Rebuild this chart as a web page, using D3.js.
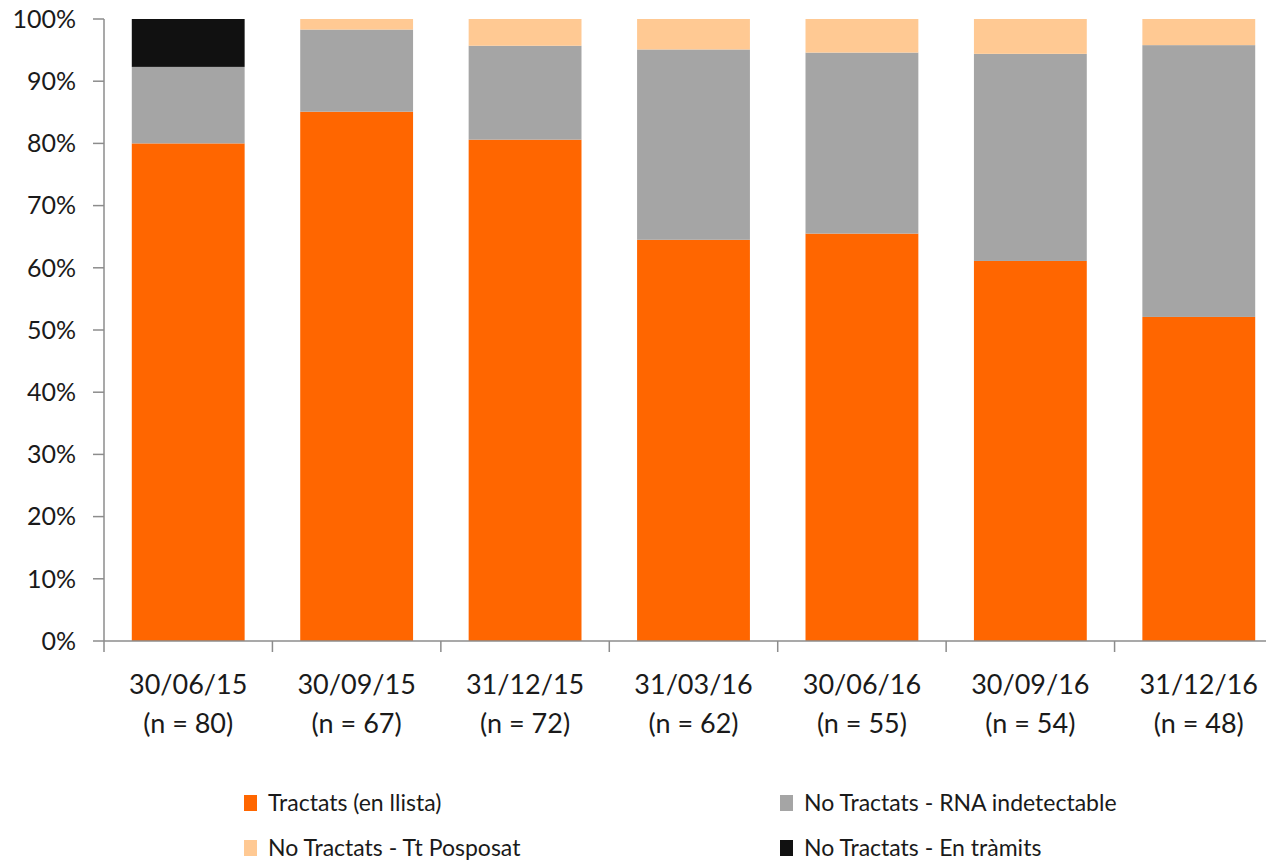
<!DOCTYPE html>
<html>
<head>
<meta charset="utf-8">
<script src="https://cdn.jsdelivr.net/npm/d3@7"></script>
<style>
  body { margin: 0; background: #fff; }
  text { font-family: Lato, "Open Sans", sans-serif; fill: #1a1a1a; }
</style>
</head>
<body>
<svg id="chart" width="1266" height="862"></svg>
<script>
// Data (shares in %)
const dates = ['30/06/15', '30/09/15', '31/12/15', '31/03/16', '30/06/16', '30/09/16', '31/12/16']
const counts = [80, 67, 72, 62, 55, 54, 48]
const tractats = [80.0, 85.1, 80.6, 64.5, 65.5, 61.1, 52.1]
const rnaIndetectable = [12.3, 13.2, 15.1, 30.6, 29.1, 33.3, 43.7]
const ttPosposat = [0, 1.7, 4.3, 4.9, 5.4, 5.6, 4.2]
const enTramits = [7.7, 0, 0, 0, 0, 0, 0]
const yTicks = [0, 10, 20, 30, 40, 50, 60, 70, 80, 90, 100]

const seriesKeys = ['tractats', 'rna', 'posposat', 'tramits']
const seriesNames = {
  tractats: 'Tractats (en llista)',
  rna: 'No Tractats - RNA indetectable',
  posposat: 'No Tractats - Tt Posposat',
  tramits: 'No Tractats - En tràmits',
}
const colors = {
  tractats: '#ff6600',
  rna: '#a5a5a5',
  posposat: '#ffc993',
  tramits: '#111111',
}

const table = dates.map((d, i) => ({
  date: d,
  n: counts[i],
  tractats: tractats[i],
  rna: rnaIndetectable[i],
  posposat: ttPosposat[i],
  tramits: enTramits[i],
}))

const svg = d3.select('#chart')
const axisColor = '#8c8c8c'

const x0 = 104, x1 = 1283, yTop = 19, yBottom = 641

const xScale = d3
  .scaleBand()
  .domain(dates)
  .range([x0, x1])
  .paddingInner(0.33)
  .paddingOuter(0.165)

const yScale = d3.scaleLinear().domain([0, 100]).range([yBottom, yTop])

const stacked = d3.stack().keys(seriesKeys)(table)

// Bars
svg
  .append('g')
  .selectAll('g')
  .data(stacked)
  .join('g')
  .attr('fill', d => colors[d.key])
  .selectAll('rect')
  .data(d => d)
  .join('rect')
  .attr('x', d => xScale(d.data.date))
  .attr('width', xScale.bandwidth())
  .attr('y', d => yScale(d[1]))
  .attr('height', d => yScale(d[0]) - yScale(d[1]))

// Left axis
const yAxis = svg.append('g').attr('transform', `translate(${x0},0)`)
yAxis
  .append('line')
  .attr('x1', 0).attr('x2', 0)
  .attr('y1', yScale(0)).attr('y2', yScale(100))
  .attr('stroke', axisColor).attr('stroke-width', 1.5)
const yTick = yAxis
  .selectAll('.ytick')
  .data(yTicks)
  .join('g')
  .attr('class', 'ytick')
  .attr('transform', d => `translate(0,${yScale(d)})`)
yTick.append('line').attr('x1', -11).attr('x2', 0).attr('stroke', axisColor).attr('stroke-width', 1.5)
yTick
  .append('text')
  .attr('x', -28)
  .attr('dy', '0.35em')
  .attr('text-anchor', 'end')
  .style('font-size', '25px')
  .text(d => d + '%')

// Bottom axis
const step = xScale.step()
svg
  .append('line')
  .attr('x1', x0).attr('x2', x1)
  .attr('y1', yBottom).attr('y2', yBottom)
  .attr('stroke', axisColor).attr('stroke-width', 1.5)
svg
  .append('g')
  .selectAll('line')
  .data(d3.range(dates.length + 1))
  .join('line')
  .attr('x1', i => x0 + i * step).attr('x2', i => x0 + i * step)
  .attr('y1', yBottom).attr('y2', yBottom + 11)
  .attr('stroke', axisColor).attr('stroke-width', 1.5)

const xLabel = svg
  .append('g')
  .selectAll('text')
  .data(table)
  .join('text')
  .attr('text-anchor', 'middle')
  .style('font-size', '27px')
xLabel
  .append('tspan')
  .attr('x', d => xScale(d.date) + xScale.bandwidth() / 2)
  .attr('y', 694)
  .text(d => d.date)
xLabel
  .append('tspan')
  .attr('x', d => xScale(d.date) + xScale.bandwidth() / 2)
  .attr('y', 733)
  .text(d => `(n = ${d.n})`)

// Legend
const legendPos = {
  tractats: [244, 803],
  rna: [780, 803],
  posposat: [244, 848],
  tramits: [780, 848],
}
const legend = svg
  .append('g')
  .selectAll('g')
  .data(seriesKeys)
  .join('g')
  .attr('transform', k => `translate(${legendPos[k][0]},${legendPos[k][1]})`)
legend
  .append('rect')
  .attr('x', 0).attr('y', -8)
  .attr('width', 13).attr('height', 16)
  .attr('fill', k => colors[k])
legend
  .append('text')
  .attr('x', 24)
  .attr('dy', '0.35em')
  .style('font-size', '23px')
  .text(k => seriesNames[k])
</script>
</body>
</html>
